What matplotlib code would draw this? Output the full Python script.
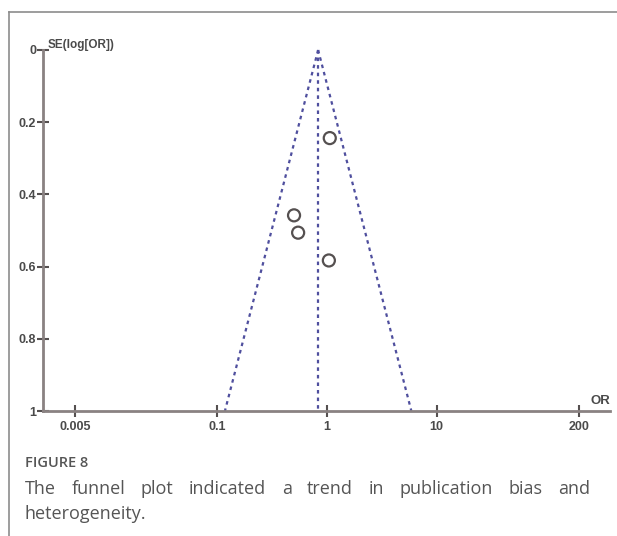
import numpy as np
import matplotlib
matplotlib.use("Agg")
import matplotlib.pyplot as plt
from matplotlib.lines import Line2D

# study estimates
study_or = [1.06, 0.50, 0.545, 1.04]
study_se = [0.244, 0.458, 0.506, 0.583]
pooled_or = 0.83
se_max = 1.0
xticks = [0.005, 0.1, 1, 10, 200]
xtick_labels = ["0.005", "0.1", "1", "10", "200"]
yticks = [0, 0.2, 0.4, 0.6, 0.8, 1]
ytick_labels = ["0", "0.2", "0.4", "0.6", "0.8", "1"]
caption_head = "FIGURE 8"
caption_line1 = "The funnel plot indicated a trend in publication bias and"
caption_line2 = "heterogeneity."

axis_col = "#8a8282"
txt_col = "#4a4a4a"
cap_col = "#555555"
funnel_col = "#4f4f9e"

fig = plt.figure(figsize=(6.17, 5.36), dpi=100)
ax = fig.add_axes([43/617, 1-411/536, (610-43)/617, (411-50)/536])

ax.set_xscale("log")
ax.set_xlim(0.00255, 384)
ax.set_ylim(1, 0)

# funnel (95% pseudo confidence limits)
se_line = np.array([0, se_max])
dash = (0, (1.6, 1.8))
ax.plot(pooled_or*np.exp(-1.96*se_line), se_line, color=funnel_col, lw=1.6, ls=dash, clip_on=False)
ax.plot(pooled_or*np.exp(1.96*se_line), se_line, color=funnel_col, lw=1.6, ls=dash, clip_on=False)
ax.plot([pooled_or, pooled_or], se_line, color=funnel_col, lw=1.6, ls=dash, clip_on=False)

ax.scatter(study_or, study_se, s=75, facecolors="none", edgecolors="#555050", linewidths=1.6, zorder=5, clip_on=False)

for s in ["top", "right"]:
    ax.spines[s].set_visible(False)
for s in ["left", "bottom"]:
    ax.spines[s].set_color(axis_col)
    ax.spines[s].set_linewidth(2)

ax.set_xticks(xticks)
ax.set_xticklabels(xtick_labels)
ax.minorticks_off()
ax.set_yticks(yticks)
ax.set_yticklabels(ytick_labels)
ax.tick_params(axis="both", direction="inout", length=8, width=1.5, color="#555050",
               labelsize=9, labelcolor=txt_col)
ax.tick_params(axis="x", pad=3)
ax.tick_params(axis="y", pad=1)
for lab in ax.get_xticklabels() + ax.get_yticklabels():
    lab.set_family("Liberation Sans")
    lab.set_fontweight("bold")

ax.text(0.0028, -0.006, "SE(log[OR])", fontsize=8.5, color=txt_col, family="Liberation Sans",
        fontweight="bold", ha="left", va="baseline")
ax.text(384, 0.99, "OR", fontsize=9.5, color=txt_col, family="Liberation Sans",
        fontweight="bold", ha="right", va="bottom")

# page frame
fig.add_artist(Line2D([9/617, 9/617], [0, 1-12/536], color="#8c8c8c", lw=1.2))
fig.add_artist(Line2D([9/617, 1], [1-12/536, 1-12/536], color="#8c8c8c", lw=1.2))

# caption
fig.text(25/617, 1-467/536, caption_head, fontsize=10.5, color=cap_col, family="Open Sans",
         fontweight="semibold", va="baseline")

fig.canvas.draw()
r = fig.canvas.get_renderer()
words = caption_line1.split()
x0, x1 = 25/617, 590/617
y1 = 1-494/536
texts = [fig.text(0, y1, w, fontsize=13, color=cap_col, family="Open Sans", va="baseline") for w in words]
widths = [t.get_window_extent(r).width/fig.bbox.width for t in texts]
gap = (x1 - x0 - sum(widths))/(len(words)-1)
xp = x0
for t, w in zip(texts, widths):
    t.set_x(xp)
    xp += w + gap
fig.text(x0, 1-519/536, caption_line2, fontsize=13, color=cap_col, family="Open Sans", va="baseline")

fig.savefig("out.png", dpi=100)
